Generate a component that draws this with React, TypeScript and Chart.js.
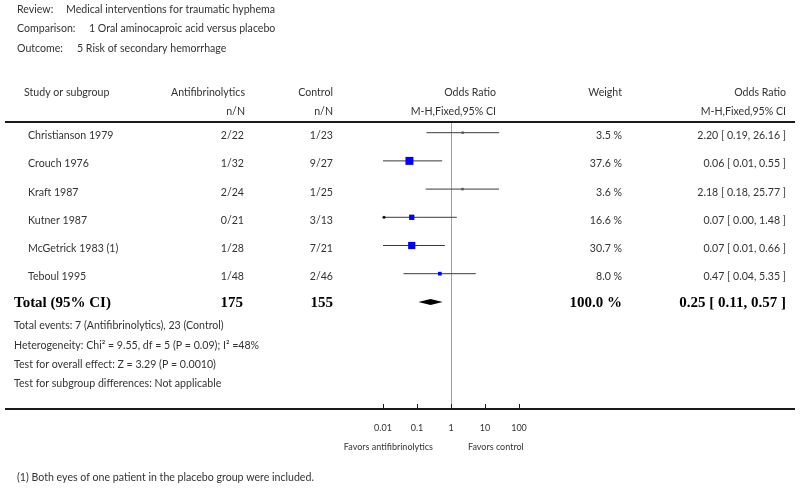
import React, { useEffect, useRef } from 'react';
import { Chart, registerables } from 'chart.js';
Chart.register(...registerables);

const reviewTitle = 'Medical interventions for traumatic hyphema';
const comparisonTitle = '1 Oral aminocaproic acid versus placebo';
const outcomeTitle = '5 Risk of secondary hemorrhage';

const studies = ['Christianson 1979', 'Crouch 1976', 'Kraft 1987', 'Kutner 1987', 'McGetrick 1983 (1)', 'Teboul 1995'];
const treatEvents = ['2/22', '1/32', '2/24', '0/21', '1/28', '1/48'];
const controlEvents = ['1/23', '9/27', '1/25', '3/13', '7/21', '2/46'];
const weights = [3.5, 37.6, 3.6, 16.6, 30.7, 8.0];
const oddsRatio = [2.2, 0.06, 2.18, 0.07, 0.07, 0.47];
const ciLow = [0.19, 0.01, 0.18, 0.0, 0.01, 0.04];
const ciHigh = [26.16, 0.55, 25.77, 1.48, 0.66, 5.35];
const totalTreat = '175';
const totalControl = '155';
const totalWeight = '100.0 %';
const totalOR = 0.25;
const totalLow = 0.11;
const totalHigh = 0.57;
const axisTicks = [0.01, 0.1, 1, 10, 100];
const axisTickLabels = ['0.01', '0.1', '1', '10', '100'];
const summaryLines = [
  'Total events: 7 (Antifibrinolytics), 23 (Control)',
  'Heterogeneity: Chi\u00B2 = 9.55, df = 5 (P = 0.09); I\u00B2 =48%',
  'Test for overall effect: Z = 3.29 (P = 0.0010)',
  'Test for subgroup differences: Not applicable',
];
const footnote = '(1) Both eyes of one patient in the placebo group were included.';

const SANS = 'Lato, "Open Sans", sans-serif';
const SERIF = '"Liberation Serif", "DejaVu Serif", serif';
const TXT = '#333333';

const fmt = (v: number) => v.toFixed(2);

export default function App() {
  const ref = useRef<HTMLCanvasElement>(null);
  useEffect(() => {
    document.body.style.margin = '0';
    const canvas = ref.current!;
    const AXMIN = axisTicks[0];
    const AXMAX = axisTicks[axisTicks.length - 1];
    const clip = (v: number) => Math.min(AXMAX, Math.max(AXMIN, v));
    const totalRow = studies.length;

    const datasets: any[] = [];
    studies.forEach((_, i) => {
      datasets.push({
        type: 'line',
        data: [
          { x: clip(ciLow[i]), y: i },
          { x: clip(ciHigh[i]), y: i },
        ],
        borderColor: '#3a3a3a',
        borderWidth: 1,
        pointRadius: 0,
        showLine: true,
        order: 2,
      });
    });
    datasets.push({
      type: 'scatter',
      data: studies.map((_, i) => ({ x: oddsRatio[i], y: i })),
      pointStyle: 'rect',
      pointRadius: weights.map((w) => (1.3 * Math.sqrt(w)) / Math.SQRT2),
      backgroundColor: weights.map((w) => (w < 5 ? '#555555' : '#0000ff')),
      borderWidth: 0,
      order: 1,
    });

    const drawText = (
      ctx: CanvasRenderingContext2D,
      t: string,
      x: number,
      y: number,
      align: CanvasTextAlign,
      font: string,
      color = TXT
    ) => {
      ctx.font = font;
      ctx.fillStyle = color;
      ctx.textAlign = align;
      ctx.textBaseline = 'middle';
      ctx.fillText(t, x, y);
    };

    const forestPlugin = {
      id: 'forest',
      beforeDatasetsDraw(chart: any) {
        const ctx = chart.ctx as CanvasRenderingContext2D;
        const xs = chart.scales.x;
        const area = chart.chartArea;
        ctx.save();
        ctx.strokeStyle = '#1a1a1a';
        ctx.lineWidth = 2;
        ctx.beginPath();
        ctx.moveTo(5, area.top);
        ctx.lineTo(795, area.top);
        ctx.stroke();
        ctx.beginPath();
        ctx.moveTo(5, area.bottom);
        ctx.lineTo(795, area.bottom);
        ctx.stroke();
        const x1 = Math.round(xs.getPixelForValue(1)) + 0.5;
        ctx.strokeStyle = '#a0a0a0';
        ctx.lineWidth = 1;
        ctx.beginPath();
        ctx.moveTo(x1, area.top + 1);
        ctx.lineTo(x1, area.bottom - 1);
        ctx.stroke();
        ctx.strokeStyle = '#1a1a1a';
        axisTicks.forEach((t) => {
          const px = Math.round(xs.getPixelForValue(t)) + 0.5;
          ctx.beginPath();
          ctx.moveTo(px, area.bottom - 5);
          ctx.lineTo(px, area.bottom);
          ctx.stroke();
        });
        ctx.restore();
      },
      afterDatasetsDraw(chart: any) {
        const ctx = chart.ctx as CanvasRenderingContext2D;
        const xs = chart.scales.x;
        const ys = chart.scales.y;
        const area = chart.chartArea;
        ctx.save();
        studies.forEach((_, i) => {
          if (ciLow[i] < AXMIN) {
            ctx.fillStyle = '#111';
            ctx.beginPath();
            ctx.arc(xs.getPixelForValue(AXMIN) + 1, ys.getPixelForValue(i), 1.5, 0, Math.PI * 2);
            ctx.fill();
          }
        });
        const yT = ys.getPixelForValue(totalRow);
        ctx.fillStyle = '#000';
        ctx.beginPath();
        ctx.moveTo(xs.getPixelForValue(totalLow), yT);
        ctx.lineTo(xs.getPixelForValue(totalOR), yT - 3);
        ctx.lineTo(xs.getPixelForValue(totalHigh), yT);
        ctx.lineTo(xs.getPixelForValue(totalOR), yT + 3);
        ctx.closePath();
        ctx.fill();

        const f = `10.6px ${SANS}`;
        drawText(ctx, 'Review:', 17, 10, 'left', f);
        drawText(ctx, reviewTitle, 66, 10, 'left', f);
        drawText(ctx, 'Comparison:', 17, 29, 'left', f);
        drawText(ctx, comparisonTitle, 89, 29, 'left', f);
        drawText(ctx, 'Outcome:', 17, 49, 'left', f);
        drawText(ctx, outcomeTitle, 77, 49, 'left', f);

        const h1 = 93;
        const h2 = 112;
        drawText(ctx, 'Study or subgroup', 24, h1, 'left', f);
        drawText(ctx, 'Antifibrinolytics', 245, h1, 'right', f);
        drawText(ctx, 'n/N', 245, h2, 'right', f);
        drawText(ctx, 'Control', 333, h1, 'right', f);
        drawText(ctx, 'n/N', 333, h2, 'right', f);
        drawText(ctx, 'Odds Ratio', 496, h1, 'right', f);
        drawText(ctx, 'M-H,Fixed,95% CI', 496, h2, 'right', f);
        drawText(ctx, 'Weight', 622, h1, 'right', f);
        drawText(ctx, 'Odds Ratio', 786, h1, 'right', f);
        drawText(ctx, 'M-H,Fixed,95% CI', 786, h2, 'right', f);

        studies.forEach((s, i) => {
          const y = ys.getPixelForValue(i) + 3;
          drawText(ctx, s, 28, y, 'left', f);
          drawText(ctx, treatEvents[i], 244, y, 'right', f);
          drawText(ctx, controlEvents[i], 333, y, 'right', f);
          drawText(ctx, `${weights[i].toFixed(1)} %`, 622, y, 'right', f);
          drawText(ctx, `${fmt(oddsRatio[i])} [ ${fmt(ciLow[i])}, ${fmt(ciHigh[i])} ]`, 786, y, 'right', f);
        });

        const fb = `bold 15px ${SERIF}`;
        const yt = yT + 1;
        drawText(ctx, 'Total (95% CI)', 14, yt, 'left', fb, '#000');
        drawText(ctx, totalTreat, 243, yt, 'right', fb, '#000');
        drawText(ctx, totalControl, 333, yt, 'right', fb, '#000');
        drawText(ctx, totalWeight, 622, yt, 'right', fb, '#000');
        drawText(ctx, `${fmt(totalOR)} [ ${fmt(totalLow)}, ${fmt(totalHigh)} ]`, 786, yt, 'right', fb, '#000');

        const sy = [326, 345.5, 364.5, 383.5];
        summaryLines.forEach((t, i) => drawText(ctx, t, 14, sy[i], 'left', f));

        const fs = `9px ${SANS}`;
        axisTicks.forEach((t, i) => {
          drawText(ctx, axisTickLabels[i], xs.getPixelForValue(t), area.bottom + 19, 'center', fs);
        });
        const x1 = xs.getPixelForValue(1);
        drawText(ctx, 'Favors antifibrinolytics', x1 - 18, area.bottom + 38, 'right', fs);
        drawText(ctx, 'Favors control', x1 + 17, area.bottom + 38, 'left', fs);

        drawText(ctx, footnote, 17, 478, 'left', f);
        ctx.restore();
      },
    };

    const chart = new Chart(canvas, {
      type: 'scatter',
      data: { datasets },
      options: {
        responsive: false,
        animation: false,
        layout: { padding: { left: 383, right: 281, top: 122, bottom: 80 } },
        scales: {
          x: { type: 'logarithmic', min: AXMIN, max: AXMAX, display: false },
          y: { type: 'linear', min: -0.379, max: 9.798, reverse: true, display: false },
        },
        plugins: { legend: { display: false }, tooltip: { enabled: false } },
      },
      plugins: [forestPlugin],
    } as any);
    return () => chart.destroy();
  }, []);

  return (
    <div style={{ position: 'absolute', left: 0, top: 0, width: 800, height: 489, background: '#fff' }}>
      <canvas ref={ref} width={800} height={489} style={{ display: 'block' }} />
    </div>
  );
}
